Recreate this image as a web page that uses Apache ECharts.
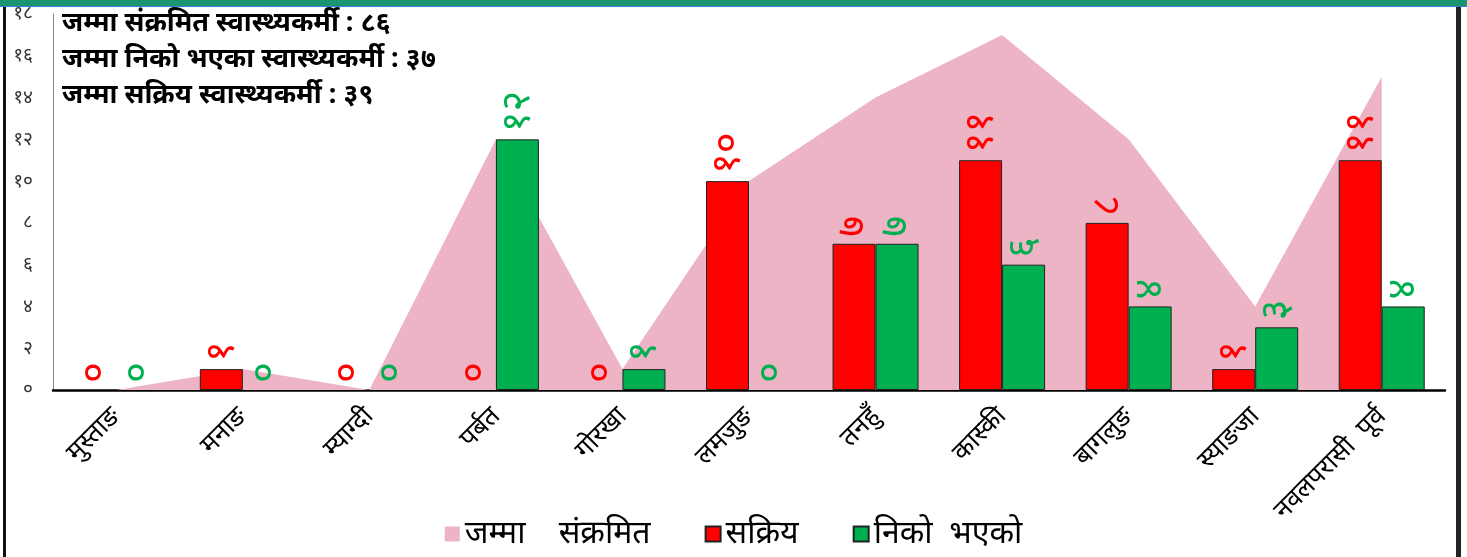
<!DOCTYPE html>
<html>
<head>
<meta charset="utf-8">
<script src="https://cdn.jsdelivr.net/npm/echarts@6/dist/echarts.min.js"></script>
<style>
  html, body { margin: 0; padding: 0; background: #fff; }
  #chart { width: 1467px; height: 557px; }
</style>
</head>
<body>
<div id="chart"></div>
<script>
const districts = ['मुस्ताङ', 'मनाङ', 'म्याग्दी', 'पर्बत', 'गोरखा', 'लमजुङ', 'तनहुँ', 'कास्की', 'बागलुङ', 'स्याङजा', 'नवलपरासी  पूर्व'];
const totalInfected = [0, 1, 0, 12, 1, 10, 14, 17, 12, 4, 15];
const active = [0, 1, 0, 0, 0, 10, 7, 11, 8, 1, 11];
const recovered = [0, 0, 0, 12, 1, 0, 7, 6, 4, 3, 4];
const seriesNames = ['जम्मा    संक्रमित', 'सक्रिय', 'निको  भएको'];
const summaryLines = [
  'जम्मा संक्रमित स्वास्थ्यकर्मी : ८६',
  'जम्मा निको भएका स्वास्थ्यकर्मी : ३७',
  'जम्मा सक्रिय स्वास्थ्यकर्मी : ३९'
];

const FONT = '"Noto Sans", "DejaVu Sans", sans-serif';
const nepDigits = (n) => String(n).replace(/\d/g, (d) => '०१२३४५६७८९'[d]);

// zero-height bars get no outline, otherwise a stray line shows on the axis
const barData = (values) =>
  values.map((v) => (v === 0 ? { value: v, itemStyle: { borderWidth: 0 } } : v));

const barLabel = (color) => ({
  show: true,
  position: 'top',
  rotate: 90,
  align: 'left',
  verticalAlign: 'middle',
  distance: 7,
  color,
  fontSize: 40,
  fontFamily: FONT,
  formatter: (p) => nepDigits(p.value)
});

const chart = echarts.init(document.getElementById('chart'));

chart.setOption({
  animation: false,
  title: {
    text: summaryLines.join('\n'),
    left: 57,
    top: 0,
    textStyle: {
      fontSize: 27,
      fontWeight: 'bold',
      color: '#000',
      lineHeight: 36,
      fontFamily: FONT
    }
  },
  legend: {
    bottom: 2,
    left: 'center',
    itemWidth: 15,
    itemHeight: 15,
    itemGap: 54,
    textStyle: { fontSize: 32, color: '#000', fontFamily: FONT },
    data: [
      { name: seriesNames[0], icon: 'rect' },
      { name: seriesNames[1], icon: 'rect' },
      { name: seriesNames[2], icon: 'rect' }
    ]
  },
  grid: { left: 53, right: 22, top: 14, bottom: 167 },
  xAxis: {
    type: 'category',
    data: districts,
    axisLine: { lineStyle: { color: '#000', width: 2.5 } },
    axisTick: { show: false },
    axisLabel: {
      rotate: 45,
      interval: 0,
      fontSize: 26,
      color: '#000',
      fontFamily: FONT,
      margin: 22
    }
  },
  yAxis: {
    type: 'value',
    min: 0,
    max: 18,
    interval: 2,
    axisLine: { show: true, lineStyle: { color: '#888', width: 1 } },
    axisTick: { show: false },
    splitLine: { show: false },
    axisLabel: {
      fontSize: 19,
      color: '#333',
      fontFamily: FONT,
      margin: 20,
      formatter: (v) => nepDigits(v)
    }
  },
  series: [
    {
      name: seriesNames[0],
      type: 'line',
      data: totalInfected,
      symbol: 'none',
      lineStyle: { width: 0 },
      itemStyle: { color: '#ecb4c4' },
      areaStyle: { color: '#ecb4c4', opacity: 1 },
      z: 1
    },
    {
      name: seriesNames[1],
      type: 'bar',
      data: barData(active),
      barWidth: 43,
      barGap: 0,
      itemStyle: { color: '#ff0000', borderColor: '#222', borderWidth: 1 },
      label: barLabel('#ff0000'),
      z: 3
    },
    {
      name: seriesNames[2],
      type: 'bar',
      data: barData(recovered),
      barWidth: 43,
      barGap: 0,
      itemStyle: { color: '#00b050', borderColor: '#222', borderWidth: 1 },
      label: barLabel('#00b050'),
      z: 3
    }
  ],
  graphic: [
    { type: 'rect', left: 0, top: 0, shape: { width: 1467, height: 6 }, style: { fill: '#1b9474' } },
    { type: 'rect', left: 0, top: 6, shape: { width: 1467, height: 1 }, style: { fill: '#3a7bd5' } },
    { type: 'rect', left: 3, top: 7, shape: { width: 3, height: 550 }, style: { fill: '#111' } },
    { type: 'rect', left: 1456, top: 7, shape: { width: 5, height: 550 }, style: { fill: '#222' } }
  ]
});
</script>
</body>
</html>
